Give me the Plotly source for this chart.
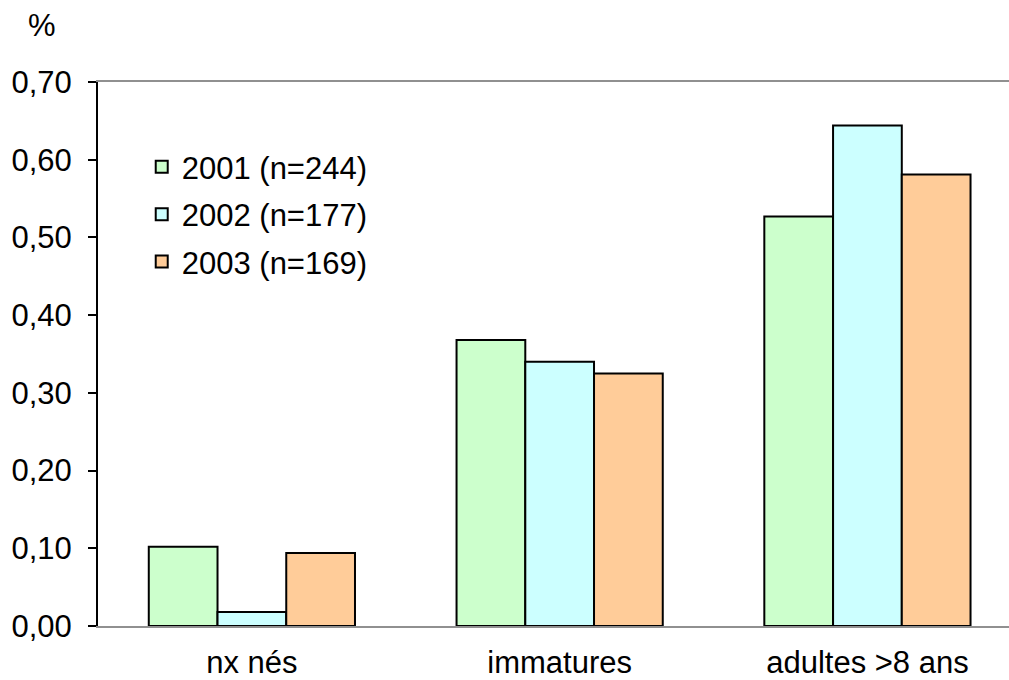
import plotly.graph_objects as go

categories = ["nx nés", "immatures", "adultes >8 ans"]
series_names = ["2001 (n=244)", "2002 (n=177)", "2003 (n=169)"]
values_2001 = [0.102, 0.368, 0.527]
values_2002 = [0.018, 0.340, 0.644]
values_2003 = [0.094, 0.325, 0.581]
colors = ["#CCFFCC", "#CCFFFF", "#FFCC99"]
y_ticks = [0.0, 0.1, 0.2, 0.3, 0.4, 0.5, 0.6, 0.7]

FONT = "Liberation Sans, Arial, sans-serif"
FS = 31

fig = go.Figure()
for i, (name, vals) in enumerate(zip(series_names, [values_2001, values_2002, values_2003])):
    fig.add_trace(go.Bar(
        x=categories, y=vals, name=name,
        marker=dict(color=colors[i], line=dict(color="black", width=2)),
        legendgroup=name,
    ))

fig.update_layout(
    width=1009, height=680,
    margin=dict(l=98, r=0, t=82, b=52),
    paper_bgcolor="white", plot_bgcolor="white",
    barmode="group", bargap=0.33, bargroupgap=0,
    separators=", ",
    font=dict(family=FONT, size=FS, color="black"),
    showlegend=True,
    legend=dict(x=0.048, y=0.893, xanchor="left", yanchor="top",
                bgcolor="rgba(0,0,0,0)", font=dict(size=FS),
                traceorder="grouped", tracegroupgap=4,
                itemwidth=30),
    xaxis=dict(range=[-0.5, 2.46], showline=True, linecolor="#909090",
               linewidth=2, mirror=True, ticks="", showgrid=False,
               tickfont=dict(size=FS), ticklabelstandoff=8),
    yaxis=dict(range=[0, 0.7], tickvals=y_ticks, tickformat=".2f",
               showline=True, linecolor="black", linewidth=2,
               ticks="outside", ticklen=8, tickwidth=2, tickcolor="black",
               showgrid=False, zeroline=False, tickfont=dict(size=FS),
               ticklabelstandoff=10),
    annotations=[dict(text="%", xref="paper", yref="paper", x=-0.062, y=1.0,
                      yshift=57, xanchor="center", yanchor="middle",
                      showarrow=False, font=dict(size=FS))],
)

fig.write_html("out.html",
               config={"displayModeBar": False},
               post_script="document.body.style.margin='0';document.body.style.padding='0';")
